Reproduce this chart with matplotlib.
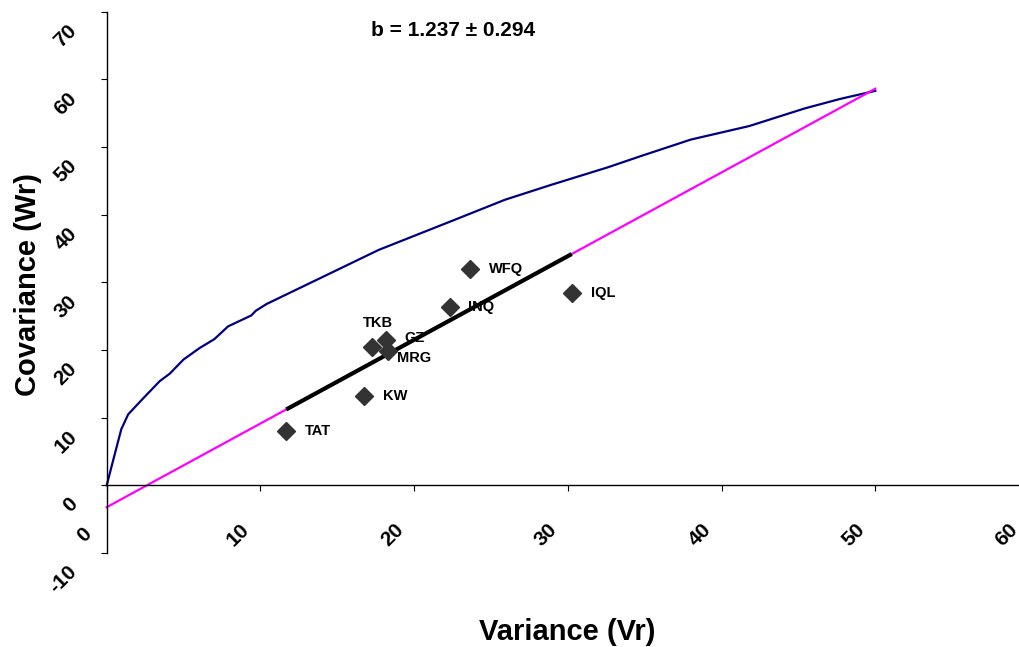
import numpy as np
import matplotlib
matplotlib.use("Agg")
import matplotlib.pyplot as plt
from matplotlib.transforms import ScaledTranslation

plt.rcParams['font.family'] = ['Liberation Sans', 'DejaVu Sans']

# ---------------- data ----------------
genotypes = ['WFQ', 'INQ', 'IQL', 'TKB', 'GZ', 'MRG', 'KW', 'TAT']
vr = [23.65, 22.35, 30.25, 17.25, 18.19, 18.29, 16.76, 11.68]
wr = [32.0, 26.4, 28.45, 20.5, 21.55, 19.9, 13.2, 8.1]

slope_b = 1.237
slope_se = 0.294

parabola_vr = [0, 0.5, 0.95, 1.4, 2.35, 3.45, 4.1, 5.0, 6.05, 7.0, 7.9, 9.4, 9.7,
               10.4, 12.5, 17.7, 22.7, 25.9, 28.9, 32.6, 34.8, 38.0, 41.8, 45.4,
               47.7, 50.0]
parabola_wr = [0, 4.4, 8.3, 10.5, 12.8, 15.4, 16.5, 18.6, 20.3, 21.6, 23.5, 25.1,
               25.8, 26.8, 29.1, 34.8, 39.3, 42.2, 44.4, 47.0, 48.7, 51.1, 53.1,
               55.7, 57.1, 58.3]

xticks = [0, 10, 20, 30, 40, 50, 60]
yticks = [-10, 0, 10, 20, 30, 40, 50, 60, 70]

# ---------------- figure ----------------
W, H = 1020, 647
fig = plt.figure(figsize=(W / 100, H / 100), dpi=100)
x0px, x1px = 106.7, 1029.0
ytop, ybot = 11.7, 553.0
ax = fig.add_axes([x0px / W, 1 - ybot / H, (x1px - x0px) / W, (ybot - ytop) / H])
ax.set_xlim(0, 60)
ax.set_ylim(-10, 70)

# limiting parabola
ax.plot(parabola_vr, parabola_wr, color='#000080', lw=1.6, zorder=2, clip_on=False)

# regression line (slope b through the means)
vr_a = np.array(vr)
wr_a = np.array(wr)
intercept = wr_a.mean() - slope_b * vr_a.mean()
xl = np.array([0, max(parabola_vr)])
ax.plot(xl, intercept + slope_b * xl, color='#FF00FF', lw=1.6, zorder=2, clip_on=False)
xs = np.array([vr_a.min(), vr_a.max()])
ax.plot(xs, intercept + slope_b * xs, color='black', lw=3, zorder=3,
        solid_capstyle='butt')

# points
ax.plot(vr, wr, linestyle='none', marker='D', markersize=8.8,
        color='#333333', markeredgecolor='#333333', zorder=4)

offsets = {'WFQ': (13.4, 0, 'left'), 'INQ': (12.7, 0, 'left'),
           'IQL': (14.0, 0, 'left'), 'TKB': (4.6, 16.8, 'center'),
           'GZ': (13.2, 1.2, 'left'), 'MRG': (6.5, -5.3, 'left'),
           'KW': (13.4, 0, 'left'), 'TAT': (13.2, 0, 'left')}
for g, x, y in zip(genotypes, vr, wr):
    dx, dy, ha = offsets[g]
    ax.annotate(g, (x, y), xytext=(dx, dy), textcoords='offset points',
                ha=ha, va='center', fontsize=10.5, fontweight='bold', zorder=5)

# spines
ax.spines['top'].set_visible(False)
ax.spines['right'].set_visible(False)
ax.spines['bottom'].set_position(('data', 0))
ax.spines['left'].set_linewidth(1.0)
ax.spines['bottom'].set_linewidth(1.0)

ax.set_xticks(xticks)
ax.set_yticks(yticks)
ax.tick_params(axis='x', direction='out', length=4.5, width=0.8, pad=31)
ax.tick_params(axis='y', direction='out', length=4.5, width=0.8, pad=19)
ax.set_xticklabels([str(t) for t in xticks], rotation=45, ha='center', va='center',
                   rotation_mode='anchor', fontsize=15, fontweight='bold')
ax.set_yticklabels([str(t) for t in yticks], rotation=45, ha='right', va='center',
                   rotation_mode='anchor', fontsize=15, fontweight='bold')
for lab in ax.get_xticklabels():
    lab.set_transform(lab.get_transform() + ScaledTranslation(-0.22, 0, fig.dpi_scale_trans))
for lab in ax.get_yticklabels():
    lab.set_transform(lab.get_transform() + ScaledTranslation(0, -0.16, fig.dpi_scale_trans))

fig.text(453 / W, 1 - 31 / H, f'b = {slope_b:.3f} \u00b1 {slope_se:.3f}',
         ha='center', va='center', fontsize=15, fontweight='bold')
fig.text(28 / W, 1 - 285 / H, 'Covariance (Wr)', rotation=90, ha='center',
         va='center', fontsize=21, fontweight='bold')
fig.text(567 / W, 1 - 632 / H, 'Variance (Vr)', ha='center', va='center',
         fontsize=21, fontweight='bold')

fig.savefig('out.png', dpi=100)
